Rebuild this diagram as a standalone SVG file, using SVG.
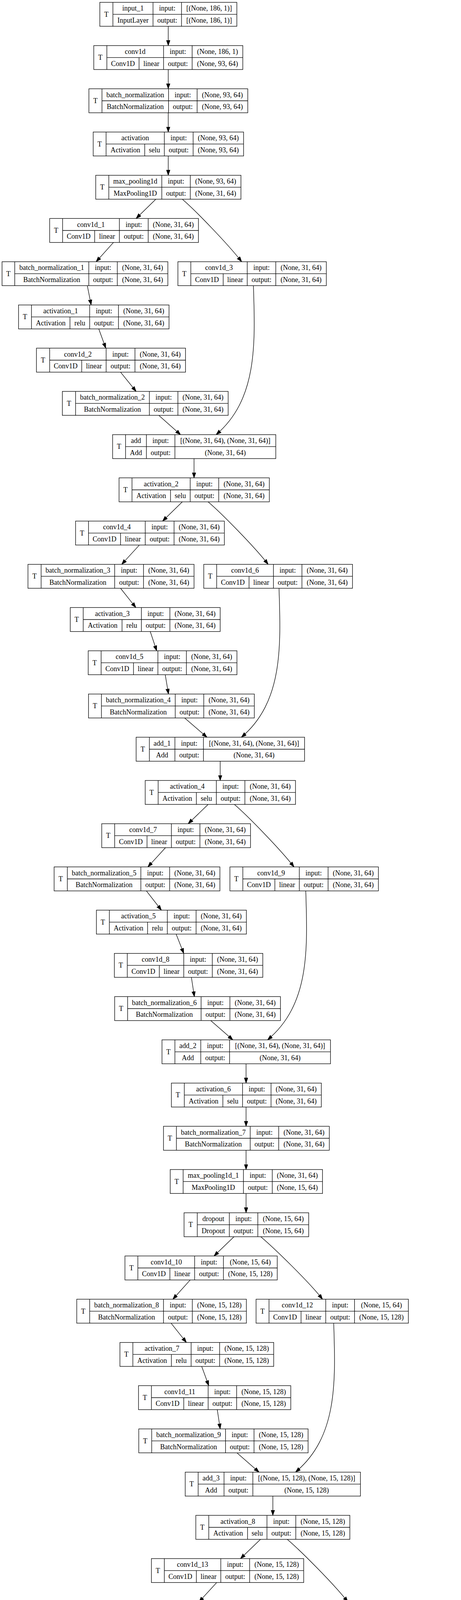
<svg xmlns="http://www.w3.org/2000/svg" width="1181" height="6381" viewBox="0 0 1181 6381">
<style>
.n rect{fill:#fff;stroke:#000;stroke-width:1.33}
.n path{fill:none;stroke:#000;stroke-width:1.33}
.n text{font-family:"Liberation Serif","Times New Roman",serif;font-size:18px;text-anchor:middle;fill:#000}
#edges path{fill:none;stroke:#000;stroke-width:1.33;marker-end:url(#ah)}
</style>
<defs>
<marker id="ah" markerWidth="14" markerHeight="10" refX="13.3" refY="4.67" orient="auto" markerUnits="userSpaceOnUse"><path d="M0,0 L13.3,4.67 L0,9.33 z" fill="#000" stroke="#000" stroke-width="1"/></marker>
</defs>
<rect x="0" y="0" width="1181" height="6381" fill="#fff"/>
<g id="edges">
<path d="M431,67.33V116.67"/>
<path d="M431,178V227.33"/>
<path d="M431,288.67V338"/>
<path d="M431,399.33V448.67"/>
<path d="M399.2,510L348.7,559.33"/>
<path d="M290.7,620.67L246.3,670"/>
<path d="M223.7,731.33L233.5,780.67"/>
<path d="M253,842L271,891.33"/>
<path d="M308.8,952.67L348.7,1002"/>
<path d="M406.7,1063.33L462.5,1112.67"/>
<path d="M497.1,1174V1223.33"/>
<path d="M467,1284.67L416.5,1334"/>
<path d="M357,1395.33L311.8,1444.67"/>
<path d="M308.8,1506L348,1555.33"/>
<path d="M384.9,1616.67L401.4,1666"/>
<path d="M423.3,1727.33L431.6,1776.67"/>
<path d="M473,1838L530.2,1887.33"/>
<path d="M564.1,1948.67V1998"/>
<path d="M533.3,2059.33L482,2108.67"/>
<path d="M424,2170L378.8,2219.33"/>
<path d="M375,2280.67L413.5,2330"/>
<path d="M451.2,2391.33L470.7,2440.67"/>
<path d="M490.3,2502L497.9,2551.33"/>
<path d="M540,2612.67L596.5,2662"/>
<path d="M630.4,2723.33V2772.67"/>
<path d="M630.4,2834V2883.33"/>
<path d="M630.4,2944.67V2994"/>
<path d="M630.4,3055.33V3104.67"/>
<path d="M599.5,3166L548.3,3215.33"/>
<path d="M487.3,3276.67L442.9,3326"/>
<path d="M438.3,3387.33L477.5,3436.67"/>
<path d="M516.7,3498L534.8,3547.33"/>
<path d="M556.6,3608.67L564.1,3658"/>
<path d="M607,3719.33L663.6,3768.67"/>
<path d="M699,3830V3879.33"/>
<path d="M667.3,3940.67L616.1,3990"/>
<path d="M555.1,4051.33L509.9,4100.67"/>
<path d="M503.9,4162L544.5,4211.33"/>
<path d="M582.2,4272.67L601.8,4322"/>
<path d="M621.4,4383.33L629.7,4432.67"/>
<path d="M673.3,4494L730.6,4543.33"/>
<path d="M766.7,4604.67V4654"/>
<path d="M766.7,4715.33V4764.67"/>
<path d="M766.7,4826V4875.33"/>
<path d="M735.9,4936.67L685.4,4986"/>
<path d="M625.1,5047.33L581.5,5096.67"/>
<path d="M577,5158L615.4,5207.33"/>
<path d="M652.3,5268.67L671.1,5318"/>
<path d="M691.4,5379.33L699.7,5428.67"/>
<path d="M742.6,5490L799.1,5539.33"/>
<path d="M834,5600.67V5650"/>
<path d="M834,5711.33V5760.67"/>
<path d="M834,5822V5871.33"/>
<path d="M834,5932.67V5982"/>
<path d="M834,6043.33V6092.67"/>
<path d="M834,6154V6203.33"/>
<path d="M834,6264.67V6314"/>
<path d="M467,510C500,538 584.1,625 619.1,670"/>
<path d="M533.2,1284.67C566.2,1312.67 651.9,1399.67 686.9,1444.67"/>
<path d="M600.3,2059.33C633.3,2087.33 718.2,2174.33 753.2,2219.33"/>
<path d="M668,3166C701,3194 791.2,3281 826.2,3326"/>
<path d="M735.9,3940.67C768.9,3968.67 856,4055.67 891,4100.67"/>
<path d="M802.9,4936.67C835.9,4964.67 918.5,5051.67 953.5,5096.67"/>
<path d="M649.2,731.33C654.2,881.33 659.2,1022.67 553.6,1112.67"/>
<path d="M714.8,1506C719.8,1656 724.8,1797.33 618.4,1887.33"/>
<path d="M783.3,2280.67C788.3,2430.67 793.3,2572 685.4,2662"/>
<path d="M854.9,3387.33C859.9,3537.33 864.9,3678.67 757,3768.67"/>
<path d="M924.9,4162C929.9,4312 934.9,4453.33 824.7,4543.33"/>
<path d="M988.2,5158C993.2,5308 998.2,5449.33 891,5539.33"/>
</g>
<g id="input_1" class="n" transform="translate(0,6)"><rect x="255.7" width="351" height="61.33"/><path d="M289.3,0V61.33M289.3,30.67H606.7M392,0V61.33M465,0V61.33"/><text x="272.5" y="36.67">T</text><text x="340.65" y="21.33">input_1</text><text x="340.65" y="52">InputLayer</text><text x="428.5" y="21.33">input:</text><text x="428.5" y="52">output:</text><text x="535.85" y="21.33">[(None, 186, 1)]</text><text x="535.85" y="52">[(None, 186, 1)]</text></g>
<g id="conv1d" class="n" transform="translate(0,116.67)"><rect x="240.3" width="381.7" height="61.33"/><path d="M273.7,0V61.33M273.7,30.67H622M356.3,30.67V61.33M419,0V61.33M492.3,0V61.33"/><text x="257" y="36.67">T</text><text x="346.35" y="21.33">conv1d</text><text x="315" y="52">Conv1D</text><text x="387.65" y="52">linear</text><text x="455.65" y="21.33">input:</text><text x="455.65" y="52">output:</text><text x="557.15" y="21.33">(None, 186, 1)</text><text x="557.15" y="52">(None, 93, 64)</text></g>
<g id="batch_normalization" class="n" transform="translate(0,227.33)"><rect x="227.7" width="407" height="61.33"/><path d="M261.3,0V61.33M261.3,30.67H634.7M431.7,0V61.33M505,0V61.33"/><text x="244.5" y="36.67">T</text><text x="346.5" y="21.33">batch_normalization</text><text x="346.5" y="52">BatchNormalization</text><text x="468.35" y="21.33">input:</text><text x="468.35" y="52">output:</text><text x="569.85" y="21.33">(None, 93, 64)</text><text x="569.85" y="52">(None, 93, 64)</text></g>
<g id="activation" class="n" transform="translate(0,338)"><rect x="238.7" width="385.3" height="61.33"/><path d="M271.7,0V61.33M271.7,30.67H624M370.7,30.67V61.33M421,0V61.33M494.7,0V61.33"/><text x="255.2" y="36.67">T</text><text x="346.35" y="21.33">activation</text><text x="321.2" y="52">Activation</text><text x="395.85" y="52">selu</text><text x="457.85" y="21.33">input:</text><text x="457.85" y="52">output:</text><text x="559.35" y="21.33">(None, 93, 64)</text><text x="559.35" y="52">(None, 93, 64)</text></g>
<g id="max_pooling1d" class="n" transform="translate(0,448.67)"><rect x="245.3" width="372" height="61.33"/><path d="M278.7,0V61.33M278.7,30.67H617.3M414.5,0V61.33M487.5,0V61.33"/><text x="262" y="36.67">T</text><text x="346.6" y="21.33">max_pooling1d</text><text x="346.6" y="52">MaxPooling1D</text><text x="451" y="21.33">input:</text><text x="451" y="52">output:</text><text x="552.4" y="21.33">(None, 93, 64)</text><text x="552.4" y="52">(None, 31, 64)</text></g>
<g id="conv1d_1" class="n" transform="translate(0,559.33)"><rect x="127.3" width="381.1" height="61.33"/><path d="M160.4,0V61.33M160.4,30.67H508.4M242.5,30.67V61.33M305.8,0V61.33M379.6,0V61.33"/><text x="143.85" y="36.67">T</text><text x="233.1" y="21.33">conv1d_1</text><text x="201.45" y="52">Conv1D</text><text x="274.15" y="52">linear</text><text x="342.7" y="21.33">input:</text><text x="342.7" y="52">output:</text><text x="444" y="21.33">(None, 31, 64)</text><text x="444" y="52">(None, 31, 64)</text></g>
<g id="batch_normalization_1" class="n" transform="translate(0,670)"><rect x="5.3" width="424.7" height="61.33"/><path d="M37.7,0V61.33M37.7,30.67H430M227.5,0V61.33M300.5,0V61.33"/><text x="21.5" y="36.67">T</text><text x="132.6" y="21.33">batch_normalization_1</text><text x="132.6" y="52">BatchNormalization</text><text x="264" y="21.33">input:</text><text x="264" y="52">output:</text><text x="365.25" y="21.33">(None, 31, 64)</text><text x="365.25" y="52">(None, 31, 64)</text></g>
<g id="conv1d_3" class="n" transform="translate(0,670)"><rect x="455.7" width="380.3" height="61.33"/><path d="M488.8,0V61.33M488.8,30.67H836M571.7,30.67V61.33M633.4,0V61.33M706.5,0V61.33"/><text x="472.25" y="36.67">T</text><text x="561.1" y="21.33">conv1d_3</text><text x="530.25" y="52">Conv1D</text><text x="602.55" y="52">linear</text><text x="669.95" y="21.33">input:</text><text x="669.95" y="52">output:</text><text x="771.25" y="21.33">(None, 31, 64)</text><text x="771.25" y="52">(None, 31, 64)</text></g>
<g id="activation_1" class="n" transform="translate(0,780.67)"><rect x="47.5" width="385.5" height="61.33"/><path d="M80.6,0V61.33M80.6,30.67H433M179.3,30.67V61.33M229.7,0V61.33M303.5,0V61.33"/><text x="64.05" y="36.67">T</text><text x="155.15" y="21.33">activation_1</text><text x="129.95" y="52">Activation</text><text x="204.5" y="52">relu</text><text x="266.6" y="21.33">input:</text><text x="266.6" y="52">output:</text><text x="368.25" y="21.33">(None, 31, 64)</text><text x="368.25" y="52">(None, 31, 64)</text></g>
<g id="conv1d_2" class="n" transform="translate(0,891.33)"><rect x="93.4" width="381.9" height="61.33"/><path d="M127.3,0V61.33M127.3,30.67H475.3M209.4,30.67V61.33M271.9,0V61.33M345.7,0V61.33"/><text x="110.35" y="36.67">T</text><text x="199.6" y="21.33">conv1d_2</text><text x="168.35" y="52">Conv1D</text><text x="240.65" y="52">linear</text><text x="308.8" y="21.33">input:</text><text x="308.8" y="52">output:</text><text x="410.5" y="21.33">(None, 31, 64)</text><text x="410.5" y="52">(None, 31, 64)</text></g>
<g id="batch_normalization_2" class="n" transform="translate(0,1002)"><rect x="159.7" width="424.8" height="61.33"/><path d="M193.6,0V61.33M193.6,30.67H584.5M382.6,0V61.33M455.7,0V61.33"/><text x="176.65" y="36.67">T</text><text x="288.1" y="21.33">batch_normalization_2</text><text x="288.1" y="52">BatchNormalization</text><text x="419.15" y="21.33">input:</text><text x="419.15" y="52">output:</text><text x="520.1" y="21.33">(None, 31, 64)</text><text x="520.1" y="52">(None, 31, 64)</text></g>
<g id="add" class="n" transform="translate(0,1112.67)"><rect x="288.5" width="418" height="61.33"/><path d="M321.6,0V61.33M321.6,30.67H706.5M375.1,0V61.33M448.1,0V61.33"/><text x="305.05" y="36.67">T</text><text x="348.35" y="21.33">add</text><text x="348.35" y="52">Add</text><text x="411.6" y="21.33">input:</text><text x="411.6" y="52">output:</text><text x="577.3" y="21.33">[(None, 31, 64), (None, 31, 64)]</text><text x="577.3" y="52">(None, 31, 64)</text></g>
<g id="activation_2" class="n" transform="translate(0,1223.33)"><rect x="305" width="385" height="61.33"/><path d="M338.2,0V61.33M338.2,30.67H690M436.8,30.67V61.33M487.3,0V61.33M560.4,0V61.33"/><text x="321.6" y="36.67">T</text><text x="412.75" y="21.33">activation_2</text><text x="387.5" y="52">Activation</text><text x="462.05" y="52">selu</text><text x="523.85" y="21.33">input:</text><text x="523.85" y="52">output:</text><text x="625.2" y="21.33">(None, 31, 64)</text><text x="625.2" y="52">(None, 31, 64)</text></g>
<g id="conv1d_4" class="n" transform="translate(0,1334)"><rect x="193.6" width="381.1" height="61.33"/><path d="M226.7,0V61.33M226.7,30.67H574.7M308.8,30.67V61.33M372.1,0V61.33M445.9,0V61.33"/><text x="210.15" y="36.67">T</text><text x="299.4" y="21.33">conv1d_4</text><text x="267.75" y="52">Conv1D</text><text x="340.45" y="52">linear</text><text x="409" y="21.33">input:</text><text x="409" y="52">output:</text><text x="510.3" y="21.33">(None, 31, 64)</text><text x="510.3" y="52">(None, 31, 64)</text></g>
<g id="batch_normalization_3" class="n" transform="translate(0,1444.67)"><rect x="71.6" width="425.5" height="61.33"/><path d="M105.4,0V61.33M105.4,30.67H497.1M293.7,0V61.33M367.6,0V61.33"/><text x="88.5" y="36.67">T</text><text x="199.55" y="21.33">batch_normalization_3</text><text x="199.55" y="52">BatchNormalization</text><text x="330.65" y="21.33">input:</text><text x="330.65" y="52">output:</text><text x="432.35" y="21.33">(None, 31, 64)</text><text x="432.35" y="52">(None, 31, 64)</text></g>
<g id="conv1d_6" class="n" transform="translate(0,1444.67)"><rect x="522" width="381" height="61.33"/><path d="M555.1,0V61.33M555.1,30.67H903M638,30.67V61.33M700.5,0V61.33M773.5,0V61.33"/><text x="538.55" y="36.67">T</text><text x="627.8" y="21.33">conv1d_6</text><text x="596.55" y="52">Conv1D</text><text x="669.25" y="52">linear</text><text x="737" y="21.33">input:</text><text x="737" y="52">output:</text><text x="838.25" y="21.33">(None, 31, 64)</text><text x="838.25" y="52">(None, 31, 64)</text></g>
<g id="activation_3" class="n" transform="translate(0,1555.33)"><rect x="180" width="384.1" height="61.33"/><path d="M213.2,0V61.33M213.2,30.67H564.1M312.6,30.67V61.33M362.3,0V61.33M435.3,0V61.33"/><text x="196.6" y="36.67">T</text><text x="287.75" y="21.33">activation_3</text><text x="262.9" y="52">Activation</text><text x="337.45" y="52">relu</text><text x="398.8" y="21.33">input:</text><text x="398.8" y="52">output:</text><text x="499.7" y="21.33">(None, 31, 64)</text><text x="499.7" y="52">(None, 31, 64)</text></g>
<g id="conv1d_5" class="n" transform="translate(0,1666)"><rect x="226" width="381" height="61.33"/><path d="M259.1,0V61.33M259.1,30.67H607M342,30.67V61.33M404.5,0V61.33M477.5,0V61.33"/><text x="242.55" y="36.67">T</text><text x="331.8" y="21.33">conv1d_5</text><text x="300.55" y="52">Conv1D</text><text x="373.25" y="52">linear</text><text x="441" y="21.33">input:</text><text x="441" y="52">output:</text><text x="542.25" y="21.33">(None, 31, 64)</text><text x="542.25" y="52">(None, 31, 64)</text></g>
<g id="batch_normalization_4" class="n" transform="translate(0,1776.67)"><rect x="226.7" width="424.8" height="61.33"/><path d="M259.8,0V61.33M259.8,30.67H651.5M448.9,0V61.33M522,0V61.33"/><text x="243.25" y="36.67">T</text><text x="354.35" y="21.33">batch_normalization_4</text><text x="354.35" y="52">BatchNormalization</text><text x="485.45" y="21.33">input:</text><text x="485.45" y="52">output:</text><text x="586.75" y="21.33">(None, 31, 64)</text><text x="586.75" y="52">(None, 31, 64)</text></g>
<g id="add_1" class="n" transform="translate(0,1887.33)"><rect x="348.7" width="431.6" height="61.33"/><path d="M382.6,0V61.33M382.6,30.67H780.3M448.1,0V61.33M521.2,0V61.33"/><text x="365.65" y="36.67">T</text><text x="415.35" y="21.33">add_1</text><text x="415.35" y="52">Add</text><text x="484.65" y="21.33">input:</text><text x="484.65" y="52">output:</text><text x="650.75" y="21.33">[(None, 31, 64), (None, 31, 64)]</text><text x="650.75" y="52">(None, 31, 64)</text></g>
<g id="activation_4" class="n" transform="translate(0,1998)"><rect x="372" width="385" height="61.33"/><path d="M405.2,0V61.33M405.2,30.67H757M503.1,30.67V61.33M554.3,0V61.33M627.4,0V61.33"/><text x="388.6" y="36.67">T</text><text x="479.75" y="21.33">activation_4</text><text x="454.15" y="52">Activation</text><text x="528.7" y="52">selu</text><text x="590.85" y="21.33">input:</text><text x="590.85" y="52">output:</text><text x="692.2" y="21.33">(None, 31, 64)</text><text x="692.2" y="52">(None, 31, 64)</text></g>
<g id="conv1d_7" class="n" transform="translate(0,2108.67)"><rect x="260.6" width="381.1" height="61.33"/><path d="M293.7,0V61.33M293.7,30.67H641.7M376.6,30.67V61.33M439.1,0V61.33M512.2,0V61.33"/><text x="277.15" y="36.67">T</text><text x="366.4" y="21.33">conv1d_7</text><text x="335.15" y="52">Conv1D</text><text x="407.85" y="52">linear</text><text x="475.65" y="21.33">input:</text><text x="475.65" y="52">output:</text><text x="576.95" y="21.33">(None, 31, 64)</text><text x="576.95" y="52">(None, 31, 64)</text></g>
<g id="batch_normalization_5" class="n" transform="translate(0,2219.33)"><rect x="138.6" width="424.8" height="61.33"/><path d="M172.5,0V61.33M172.5,30.67H563.4M360.8,0V61.33M434.6,0V61.33"/><text x="155.55" y="36.67">T</text><text x="266.65" y="21.33">batch_normalization_5</text><text x="266.65" y="52">BatchNormalization</text><text x="397.7" y="21.33">input:</text><text x="397.7" y="52">output:</text><text x="499" y="21.33">(None, 31, 64)</text><text x="499" y="52">(None, 31, 64)</text></g>
<g id="conv1d_9" class="n" transform="translate(0,2219.33)"><rect x="589" width="380.4" height="61.33"/><path d="M622.1,0V61.33M622.1,30.67H969.4M704.2,30.67V61.33M766.7,0V61.33M840.5,0V61.33"/><text x="605.55" y="36.67">T</text><text x="694.4" y="21.33">conv1d_9</text><text x="663.15" y="52">Conv1D</text><text x="735.45" y="52">linear</text><text x="803.6" y="21.33">input:</text><text x="803.6" y="52">output:</text><text x="904.95" y="21.33">(None, 31, 64)</text><text x="904.95" y="52">(None, 31, 64)</text></g>
<g id="activation_5" class="n" transform="translate(0,2330)"><rect x="247" width="384.2" height="61.33"/><path d="M280.2,0V61.33M280.2,30.67H631.2M378.1,30.67V61.33M428.6,0V61.33M502.4,0V61.33"/><text x="263.6" y="36.67">T</text><text x="354.4" y="21.33">activation_5</text><text x="329.15" y="52">Activation</text><text x="403.35" y="52">relu</text><text x="465.5" y="21.33">input:</text><text x="465.5" y="52">output:</text><text x="566.8" y="21.33">(None, 31, 64)</text><text x="566.8" y="52">(None, 31, 64)</text></g>
<g id="conv1d_8" class="n" transform="translate(0,2440.67)"><rect x="293" width="380.3" height="61.33"/><path d="M326.1,0V61.33M326.1,30.67H673.3M408.2,30.67V61.33M470.7,0V61.33M543.8,0V61.33"/><text x="309.55" y="36.67">T</text><text x="398.4" y="21.33">conv1d_8</text><text x="367.15" y="52">Conv1D</text><text x="439.45" y="52">linear</text><text x="507.25" y="21.33">input:</text><text x="507.25" y="52">output:</text><text x="608.55" y="21.33">(None, 31, 64)</text><text x="608.55" y="52">(None, 31, 64)</text></g>
<g id="batch_normalization_6" class="n" transform="translate(0,2551.33)"><rect x="293.7" width="424.8" height="61.33"/><path d="M326.9,0V61.33M326.9,30.67H718.5M515.2,0V61.33M589,0V61.33"/><text x="310.3" y="36.67">T</text><text x="421.05" y="21.33">batch_normalization_6</text><text x="421.05" y="52">BatchNormalization</text><text x="552.1" y="21.33">input:</text><text x="552.1" y="52">output:</text><text x="653.75" y="21.33">(None, 31, 64)</text><text x="653.75" y="52">(None, 31, 64)</text></g>
<g id="add_2" class="n" transform="translate(0,2662)"><rect x="415" width="431.6" height="61.33"/><path d="M448.1,0V61.33M448.1,30.67H846.6M514.4,0V61.33M588.2,0V61.33"/><text x="431.55" y="36.67">T</text><text x="481.25" y="21.33">add_2</text><text x="481.25" y="52">Add</text><text x="551.3" y="21.33">input:</text><text x="551.3" y="52">output:</text><text x="717.4" y="21.33">[(None, 31, 64), (None, 31, 64)]</text><text x="717.4" y="52">(None, 31, 64)</text></g>
<g id="activation_6" class="n" transform="translate(0,2772.67)"><rect x="439.1" width="384.1" height="61.33"/><path d="M472.2,0V61.33M472.2,30.67H823.2M570.9,30.67V61.33M621.4,0V61.33M694.4,0V61.33"/><text x="455.65" y="36.67">T</text><text x="546.8" y="21.33">activation_6</text><text x="521.55" y="52">Activation</text><text x="596.15" y="52">selu</text><text x="657.9" y="21.33">input:</text><text x="657.9" y="52">output:</text><text x="758.8" y="21.33">(None, 31, 64)</text><text x="758.8" y="52">(None, 31, 64)</text></g>
<g id="batch_normalization_7" class="n" transform="translate(0,2883.33)"><rect x="418.8" width="424.8" height="61.33"/><path d="M451.9,0V61.33M451.9,30.67H843.6M641,0V61.33M714,0V61.33"/><text x="435.35" y="36.67">T</text><text x="546.45" y="21.33">batch_normalization_7</text><text x="546.45" y="52">BatchNormalization</text><text x="677.5" y="21.33">input:</text><text x="677.5" y="52">output:</text><text x="778.8" y="21.33">(None, 31, 64)</text><text x="778.8" y="52">(None, 31, 64)</text></g>
<g id="max_pooling1d_1" class="n" transform="translate(0,2994)"><rect x="436.1" width="390.1" height="61.33"/><path d="M469.2,0V61.33M469.2,30.67H826.2M623.6,0V61.33M697.5,0V61.33"/><text x="452.65" y="36.67">T</text><text x="546.4" y="21.33">max_pooling1d_1</text><text x="546.4" y="52">MaxPooling1D</text><text x="660.55" y="21.33">input:</text><text x="660.55" y="52">output:</text><text x="761.85" y="21.33">(None, 31, 64)</text><text x="761.85" y="52">(None, 15, 64)</text></g>
<g id="dropout" class="n" transform="translate(0,3104.67)"><rect x="471.5" width="319.3" height="61.33"/><path d="M505.4,0V61.33M505.4,30.67H790.8M587.5,0V61.33M660.5,0V61.33"/><text x="488.45" y="36.67">T</text><text x="546.45" y="21.33">dropout</text><text x="546.45" y="52">Dropout</text><text x="624" y="21.33">input:</text><text x="624" y="52">output:</text><text x="725.65" y="21.33">(None, 15, 64)</text><text x="725.65" y="52">(None, 15, 64)</text></g>
<g id="conv1d_10" class="n" transform="translate(0,3215.33)"><rect x="320.1" width="390.2" height="61.33"/><path d="M353.2,0V61.33M353.2,30.67H710.3M435.3,30.67V61.33M498.6,0V61.33M572.4,0V61.33"/><text x="336.65" y="36.67">T</text><text x="425.9" y="21.33">conv1d_10</text><text x="394.25" y="52">Conv1D</text><text x="466.95" y="52">linear</text><text x="535.5" y="21.33">input:</text><text x="535.5" y="52">output:</text><text x="641.35" y="21.33">(None, 15, 64)</text><text x="641.35" y="52">(None, 15, 128)</text></g>
<g id="batch_normalization_8" class="n" transform="translate(0,3326)"><rect x="196.6" width="434.6" height="61.33"/><path d="M229.7,0V61.33M229.7,30.67H631.2M418.8,0V61.33M492.6,0V61.33"/><text x="213.15" y="36.67">T</text><text x="324.25" y="21.33">batch_normalization_8</text><text x="324.25" y="52">BatchNormalization</text><text x="455.7" y="21.33">input:</text><text x="455.7" y="52">output:</text><text x="561.9" y="21.33">(None, 15, 128)</text><text x="561.9" y="52">(None, 15, 128)</text></g>
<g id="conv1d_12" class="n" transform="translate(0,3326)"><rect x="656" width="390.2" height="61.33"/><path d="M689.2,0V61.33M689.2,30.67H1046.2M771.3,30.67V61.33M834.5,0V61.33M908.3,0V61.33"/><text x="672.6" y="36.67">T</text><text x="761.85" y="21.33">conv1d_12</text><text x="730.25" y="52">Conv1D</text><text x="802.9" y="52">linear</text><text x="871.4" y="21.33">input:</text><text x="871.4" y="52">output:</text><text x="977.25" y="21.33">(None, 15, 64)</text><text x="977.25" y="52">(None, 15, 128)</text></g>
<g id="activation_7" class="n" transform="translate(0,3436.67)"><rect x="307.3" width="393.9" height="61.33"/><path d="M340.4,0V61.33M340.4,30.67H701.2M439.1,30.67V61.33M489.6,0V61.33M562.6,0V61.33"/><text x="323.85" y="36.67">T</text><text x="415" y="21.33">activation_7</text><text x="389.75" y="52">Activation</text><text x="464.35" y="52">relu</text><text x="526.1" y="21.33">input:</text><text x="526.1" y="52">output:</text><text x="631.9" y="21.33">(None, 15, 128)</text><text x="631.9" y="52">(None, 15, 128)</text></g>
<g id="conv1d_11" class="n" transform="translate(0,3547.33)"><rect x="354.8" width="390.1" height="61.33"/><path d="M387.9,0V61.33M387.9,30.67H744.9M470.7,30.67V61.33M533.3,0V61.33M606.3,0V61.33"/><text x="371.35" y="36.67">T</text><text x="460.6" y="21.33">conv1d_11</text><text x="429.3" y="52">Conv1D</text><text x="502" y="52">linear</text><text x="569.8" y="21.33">input:</text><text x="569.8" y="52">output:</text><text x="675.6" y="21.33">(None, 15, 128)</text><text x="675.6" y="52">(None, 15, 128)</text></g>
<g id="batch_normalization_9" class="n" transform="translate(0,3658)"><rect x="355.5" width="433.8" height="61.33"/><path d="M388.6,0V61.33M388.6,30.67H789.3M577.7,0V61.33M650.7,0V61.33"/><text x="372.05" y="36.67">T</text><text x="483.15" y="21.33">batch_normalization_9</text><text x="483.15" y="52">BatchNormalization</text><text x="614.2" y="21.33">input:</text><text x="614.2" y="52">output:</text><text x="720" y="21.33">(None, 15, 128)</text><text x="720" y="52">(None, 15, 128)</text></g>
<g id="add_3" class="n" transform="translate(0,3768.67)"><rect x="474.5" width="448.9" height="61.33"/><path d="M507.6,0V61.33M507.6,30.67H923.4M573.9,0V61.33M647.7,0V61.33"/><text x="491.05" y="36.67">T</text><text x="540.75" y="21.33">add_3</text><text x="540.75" y="52">Add</text><text x="610.8" y="21.33">input:</text><text x="610.8" y="52">output:</text><text x="785.55" y="21.33">[(None, 15, 128), (None, 15, 128)]</text><text x="785.55" y="52">(None, 15, 128)</text></g>
<g id="activation_8" class="n" transform="translate(0,3879.33)"><rect x="501.6" width="394.7" height="61.33"/><path d="M534.8,0V61.33M534.8,30.67H896.3M634.2,30.67V61.33M683.9,0V61.33M757.7,0V61.33"/><text x="518.2" y="36.67">T</text><text x="609.35" y="21.33">activation_8</text><text x="584.5" y="52">Activation</text><text x="659.05" y="52">selu</text><text x="720.8" y="21.33">input:</text><text x="720.8" y="52">output:</text><text x="827" y="21.33">(None, 15, 128)</text><text x="827" y="52">(None, 15, 128)</text></g>
<g id="conv1d_13" class="n" transform="translate(0,3990)"><rect x="387.9" width="390.1" height="61.33"/><path d="M421,0V61.33M421,30.67H778M503.1,30.67V61.33M565.6,0V61.33M639.5,0V61.33"/><text x="404.45" y="36.67">T</text><text x="493.3" y="21.33">conv1d_13</text><text x="462.05" y="52">Conv1D</text><text x="534.35" y="52">linear</text><text x="602.55" y="21.33">input:</text><text x="602.55" y="52">output:</text><text x="708.75" y="21.33">(None, 15, 128)</text><text x="708.75" y="52">(None, 15, 128)</text></g>
<g id="batch_normalization_10" class="n" transform="translate(0,4100.67)"><rect x="257.6" width="443.6" height="61.33"/><path d="M290.7,0V61.33M290.7,30.67H701.2M489.6,0V61.33M562.6,0V61.33"/><text x="274.15" y="36.67">T</text><text x="390.15" y="21.33">batch_normalization_10</text><text x="390.15" y="52">BatchNormalization</text><text x="526.1" y="21.33">input:</text><text x="526.1" y="52">output:</text><text x="631.9" y="21.33">(None, 15, 128)</text><text x="631.9" y="52">(None, 15, 128)</text></g>
<g id="conv1d_15" class="n" transform="translate(0,4100.67)"><rect x="725.3" width="390.2" height="61.33"/><path d="M758.5,0V61.33M758.5,30.67H1115.5M840.5,30.67V61.33M903.1,0V61.33M976.9,0V61.33"/><text x="741.9" y="36.67">T</text><text x="830.8" y="21.33">conv1d_15</text><text x="799.5" y="52">Conv1D</text><text x="871.8" y="52">linear</text><text x="940" y="21.33">input:</text><text x="940" y="52">output:</text><text x="1046.2" y="21.33">(None, 15, 128)</text><text x="1046.2" y="52">(None, 15, 128)</text></g>
<g id="activation_9" class="n" transform="translate(0,4211.33)"><rect x="372.8" width="393.9" height="61.33"/><path d="M406,0V61.33M406,30.67H766.7M503.9,30.67V61.33M554.3,0V61.33M628.2,0V61.33"/><text x="389.4" y="36.67">T</text><text x="480.15" y="21.33">activation_9</text><text x="454.95" y="52">Activation</text><text x="529.1" y="52">relu</text><text x="591.25" y="21.33">input:</text><text x="591.25" y="52">output:</text><text x="697.45" y="21.33">(None, 15, 128)</text><text x="697.45" y="52">(None, 15, 128)</text></g>
<g id="conv1d_14" class="n" transform="translate(0,4322)"><rect x="419.5" width="390.2" height="61.33"/><path d="M452.7,0V61.33M452.7,30.67H809.7M535.5,30.67V61.33M598,0V61.33M671.8,0V61.33"/><text x="436.1" y="36.67">T</text><text x="525.35" y="21.33">conv1d_14</text><text x="494.1" y="52">Conv1D</text><text x="566.75" y="52">linear</text><text x="634.9" y="21.33">input:</text><text x="634.9" y="52">output:</text><text x="740.75" y="21.33">(None, 15, 128)</text><text x="740.75" y="52">(None, 15, 128)</text></g>
<g id="batch_normalization_11" class="n" transform="translate(0,4432.67)"><rect x="415.8" width="443.6" height="61.33"/><path d="M448.9,0V61.33M448.9,30.67H859.4M647.7,0V61.33M720.8,0V61.33"/><text x="432.35" y="36.67">T</text><text x="548.3" y="21.33">batch_normalization_11</text><text x="548.3" y="52">BatchNormalization</text><text x="684.25" y="21.33">input:</text><text x="684.25" y="52">output:</text><text x="790.1" y="21.33">(None, 15, 128)</text><text x="790.1" y="52">(None, 15, 128)</text></g>
<g id="add_4" class="n" transform="translate(0,4543.33)"><rect x="542.3" width="448.9" height="61.33"/><path d="M575.4,0V61.33M575.4,30.67H991.2M641.7,0V61.33M715.5,0V61.33"/><text x="558.85" y="36.67">T</text><text x="608.55" y="21.33">add_4</text><text x="608.55" y="52">Add</text><text x="678.6" y="21.33">input:</text><text x="678.6" y="52">output:</text><text x="853.35" y="21.33">[(None, 15, 128), (None, 15, 128)]</text><text x="853.35" y="52">(None, 15, 128)</text></g>
<g id="activation_10" class="n" transform="translate(0,4654)"><rect x="569.4" width="394.6" height="61.33"/><path d="M602.5,0V61.33M602.5,30.67H964M702,30.67V61.33M751.7,0V61.33M825.5,0V61.33"/><text x="585.95" y="36.67">T</text><text x="677.1" y="21.33">activation_10</text><text x="652.25" y="52">Activation</text><text x="726.85" y="52">selu</text><text x="788.6" y="21.33">input:</text><text x="788.6" y="52">output:</text><text x="894.75" y="21.33">(None, 15, 128)</text><text x="894.75" y="52">(None, 15, 128)</text></g>
<g id="batch_normalization_12" class="n" transform="translate(0,4764.67)"><rect x="545.3" width="442.9" height="61.33"/><path d="M578.4,0V61.33M578.4,30.67H988.2M776.5,0V61.33M850.3,0V61.33"/><text x="561.85" y="36.67">T</text><text x="677.45" y="21.33">batch_normalization_12</text><text x="677.45" y="52">BatchNormalization</text><text x="813.4" y="21.33">input:</text><text x="813.4" y="52">output:</text><text x="919.25" y="21.33">(None, 15, 128)</text><text x="919.25" y="52">(None, 15, 128)</text></g>
<g id="max_pooling1d_2" class="n" transform="translate(0,4875.33)"><rect x="567.1" width="399.2" height="61.33"/><path d="M600.3,0V61.33M600.3,30.67H966.3M754.7,0V61.33M827.7,0V61.33"/><text x="583.7" y="36.67">T</text><text x="677.5" y="21.33">max_pooling1d_2</text><text x="677.5" y="52">MaxPooling1D</text><text x="791.2" y="21.33">input:</text><text x="791.2" y="52">output:</text><text x="897" y="21.33">(None, 15, 128)</text><text x="897" y="52">(None, 7, 128)</text></g>
<g id="conv1d_16" class="n" transform="translate(0,4986)"><rect x="463.2" width="381.1" height="61.33"/><path d="M496.3,0V61.33M496.3,30.67H844.3M578.4,30.67V61.33M641.7,0V61.33M714.8,0V61.33"/><text x="479.75" y="36.67">T</text><text x="569" y="21.33">conv1d_16</text><text x="537.35" y="52">Conv1D</text><text x="610.05" y="52">linear</text><text x="678.25" y="21.33">input:</text><text x="678.25" y="52">output:</text><text x="779.55" y="21.33">(None, 7, 128)</text><text x="779.55" y="52">(None, 7, 256)</text></g>
<g id="batch_normalization_13" class="n" transform="translate(0,5096.67)"><rect x="335.2" width="434.5" height="61.33"/><path d="M368.3,0V61.33M368.3,30.67H769.7M566.4,0V61.33M640.2,0V61.33"/><text x="351.75" y="36.67">T</text><text x="467.35" y="21.33">batch_normalization_13</text><text x="467.35" y="52">BatchNormalization</text><text x="603.3" y="21.33">input:</text><text x="603.3" y="52">output:</text><text x="704.95" y="21.33">(None, 7, 256)</text><text x="704.95" y="52">(None, 7, 256)</text></g>
<g id="conv1d_18" class="n" transform="translate(0,5096.67)"><rect x="794.6" width="380.4" height="61.33"/><path d="M827,0V61.33M827,30.67H1175M909.8,30.67V61.33M972.4,0V61.33M1046.2,0V61.33"/><text x="810.8" y="36.67">T</text><text x="899.7" y="21.33">conv1d_18</text><text x="868.4" y="52">Conv1D</text><text x="941.1" y="52">linear</text><text x="1009.3" y="21.33">input:</text><text x="1009.3" y="52">output:</text><text x="1110.6" y="21.33">(None, 7, 128)</text><text x="1110.6" y="52">(None, 7, 256)</text></g>
<g id="activation_11" class="n" transform="translate(0,5207.33)"><rect x="447.4" width="385.6" height="61.33"/><path d="M480.5,0V61.33M480.5,30.67H833M579.2,30.67V61.33M629.7,0V61.33M702.7,0V61.33"/><text x="463.95" y="36.67">T</text><text x="555.1" y="21.33">activation_11</text><text x="529.85" y="52">Activation</text><text x="604.45" y="52">relu</text><text x="666.2" y="21.33">input:</text><text x="666.2" y="52">output:</text><text x="767.85" y="21.33">(None, 7, 256)</text><text x="767.85" y="52">(None, 7, 256)</text></g>
<g id="conv1d_17" class="n" transform="translate(0,5318)"><rect x="494.1" width="381.1" height="61.33"/><path d="M527.2,0V61.33M527.2,30.67H875.2M609.3,30.67V61.33M671.8,0V61.33M745.6,0V61.33"/><text x="510.65" y="36.67">T</text><text x="599.5" y="21.33">conv1d_17</text><text x="568.25" y="52">Conv1D</text><text x="640.55" y="52">linear</text><text x="708.7" y="21.33">input:</text><text x="708.7" y="52">output:</text><text x="810.4" y="21.33">(None, 7, 256)</text><text x="810.4" y="52">(None, 7, 256)</text></g>
<g id="batch_normalization_14" class="n" transform="translate(0,5428.67)"><rect x="489.6" width="434.6" height="61.33"/><path d="M522.7,0V61.33M522.7,30.67H924.2M720.8,0V61.33M794.6,0V61.33"/><text x="506.15" y="36.67">T</text><text x="621.75" y="21.33">batch_normalization_14</text><text x="621.75" y="52">BatchNormalization</text><text x="757.7" y="21.33">input:</text><text x="757.7" y="52">output:</text><text x="859.4" y="21.33">(None, 7, 256)</text><text x="859.4" y="52">(None, 7, 256)</text></g>
<g id="add_5" class="n" transform="translate(0,5539.33)"><rect x="617.6" width="431.6" height="61.33"/><path d="M650.7,0V61.33M650.7,30.67H1049.2M717.8,0V61.33M791.6,0V61.33"/><text x="634.15" y="36.67">T</text><text x="684.25" y="21.33">add_5</text><text x="684.25" y="52">Add</text><text x="754.7" y="21.33">input:</text><text x="754.7" y="52">output:</text><text x="920.4" y="21.33">[(None, 7, 256), (None, 7, 256)]</text><text x="920.4" y="52">(None, 7, 256)</text></g>
<g id="activation_12" class="n" transform="translate(0,5650)"><rect x="641" width="384.8" height="61.33"/><path d="M674.8,0V61.33M674.8,30.67H1025.8M772.8,30.67V61.33M824,0V61.33M897,0V61.33"/><text x="657.9" y="36.67">T</text><text x="749.4" y="21.33">activation_12</text><text x="723.8" y="52">Activation</text><text x="798.4" y="52">selu</text><text x="860.5" y="21.33">input:</text><text x="860.5" y="52">output:</text><text x="961.4" y="21.33">(None, 7, 256)</text><text x="961.4" y="52">(None, 7, 256)</text></g>
<g id="max_pooling1d_3" class="n" transform="translate(0,5760.67)"><rect x="638.7" width="390.1" height="61.33"/><path d="M671.8,0V61.33M671.8,30.67H1028.8M826.2,0V61.33M899.3,0V61.33"/><text x="655.25" y="36.67">T</text><text x="749" y="21.33">max_pooling1d_3</text><text x="749" y="52">MaxPooling1D</text><text x="862.75" y="21.33">input:</text><text x="862.75" y="52">output:</text><text x="964.05" y="21.33">(None, 7, 256)</text><text x="964.05" y="52">(None, 3, 256)</text></g>
<g id="flatten" class="n" transform="translate(0,5871.33)"><rect x="680.1" width="307.3" height="61.33"/><path d="M713.3,0V61.33M713.3,30.67H987.4M784.8,0V61.33M857.9,0V61.33"/><text x="696.7" y="36.67">T</text><text x="749.05" y="21.33">flatten</text><text x="749.05" y="52">Flatten</text><text x="821.35" y="21.33">input:</text><text x="821.35" y="52">output:</text><text x="922.65" y="21.33">(None, 3, 256)</text><text x="922.65" y="52">(None, 768)</text></g>
<g id="dense" class="n" transform="translate(0,5982)"><rect x="666.6" width="333.6" height="61.33"/><path d="M699.7,0V61.33M699.7,30.67H1000.2M766.7,30.67V61.33M817.2,0V61.33M890.3,0V61.33"/><text x="683.15" y="36.67">T</text><text x="758.45" y="21.33">dense</text><text x="733.2" y="52">Dense</text><text x="791.95" y="52">selu</text><text x="853.75" y="21.33">input:</text><text x="853.75" y="52">output:</text><text x="945.25" y="21.33">(None, 768)</text><text x="945.25" y="52">(None, 128)</text></g>
<g id="dropout_1" class="n" transform="translate(0,6092.67)"><rect x="677" width="313.7" height="61.33"/><path d="M710.3,0V61.33M710.3,30.67H990.7M806.7,0V61.33M880,0V61.33"/><text x="693.65" y="36.67">T</text><text x="758.5" y="21.33">dropout_1</text><text x="758.5" y="52">Dropout</text><text x="843.35" y="21.33">input:</text><text x="843.35" y="52">output:</text><text x="935.35" y="21.33">(None, 128)</text><text x="935.35" y="52">(None, 128)</text></g>
<g id="dense_1" class="n" transform="translate(0,6203.33)"><rect x="666.7" width="334.6" height="61.33"/><path d="M699.7,0V61.33M699.7,30.67H1001.3M766.3,30.67V61.33M817.3,0V61.33M890.7,0V61.33"/><text x="683.2" y="36.67">T</text><text x="758.5" y="21.33">dense_1</text><text x="733" y="52">Dense</text><text x="791.8" y="52">selu</text><text x="854" y="21.33">input:</text><text x="854" y="52">output:</text><text x="946" y="21.33">(None, 128)</text><text x="946" y="52">(None, 256)</text></g>
<g id="dense_2" class="n" transform="translate(0,6314)"><rect x="651" width="365.7" height="61.33"/><path d="M684.3,0V61.33M684.3,30.67H1016.7M751.3,30.67V61.33M832.3,0V61.33M905.7,0V61.33"/><text x="667.65" y="36.67">T</text><text x="758.3" y="21.33">dense_2</text><text x="717.8" y="52">Dense</text><text x="791.8" y="52">softmax</text><text x="869" y="21.33">input:</text><text x="869" y="52">output:</text><text x="961.2" y="21.33">(None, 256)</text><text x="961.2" y="52">(None, 5)</text></g>
</svg>
